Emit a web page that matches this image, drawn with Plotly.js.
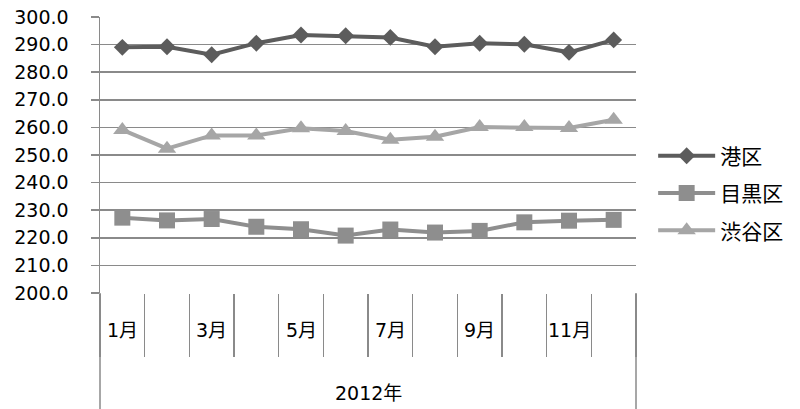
<!DOCTYPE html>
<html>
<head>
<meta charset="utf-8">
<script src="https://cdn.plot.ly/plotly-3.0.1.min.js"></script>
<style>html,body{margin:0;padding:0;background:#fff;}#chart{width:800px;height:409px;}</style>
</head>
<body>
<div id="chart"></div>
<script>
const months = ["1月","2月","3月","4月","5月","6月","7月","8月","9月","10月","11月","12月"];
const monthTickLabels = ["1月","","3月","","5月","","7月","","9月","","11月",""];
const yearLabel = "2012年";
const minato = [289.0, 289.2, 286.3, 290.5, 293.5, 293.2, 292.6, 289.2, 290.5, 290.1, 287.2, 291.7];
const meguro = [227.3, 226.3, 226.8, 224.0, 223.1, 220.8, 223.0, 221.9, 222.5, 225.6, 226.2, 226.5];
const shibuya = [259.1, 252.3, 257.1, 257.1, 259.7, 258.7, 255.5, 256.6, 260.1, 260.1, 259.8, 262.8];
const seriesNames = ["港区","目黒区","渋谷区"];

const FONT = '"DejaVu Sans", "Noto Sans CJK JP", sans-serif';
const GRID = '#8a8a8a';

const traces = [
  {x: months, y: minato, name: seriesNames[0], legendgroup: 'a', type: 'scatter', mode: 'lines+markers',
   line: {color: '#5c5c5c', width: 4}, marker: {symbol: 'diamond', size: 13, color: '#5c5c5c'}},
  {x: months, y: meguro, name: seriesNames[1], legendgroup: 'b', type: 'scatter', mode: 'lines+markers',
   line: {color: '#8e8e8e', width: 4}, marker: {symbol: 'square', size: 16, color: '#8e8e8e'}},
  {x: months, y: shibuya, name: seriesNames[2], legendgroup: 'c', type: 'scatter', mode: 'lines+markers',
   line: {color: '#a6a6a6', width: 4}, marker: {symbol: 'triangle-up', size: 16, color: '#a6a6a6'}}
];

const annotations = [];
monthTickLabels.forEach((t, i) => {
  if (t) annotations.push({x: months[i], xref: 'x', y: -0.134, yref: 'paper', text: t, showarrow: false,
    xanchor: 'center', yanchor: 'middle', font: {family: FONT, size: 19, color: '#000'}});
});
annotations.push({x: 0.5, xref: 'paper', y: -0.362, yref: 'paper', text: yearLabel, showarrow: false,
  xanchor: 'center', yanchor: 'middle', font: {family: FONT, size: 19, color: '#000'}});

const layout = {
  width: 800, height: 409,
  margin: {l: 100, r: 164, t: 17, b: 116, pad: 0, autoexpand: false},
  paper_bgcolor: '#fff', plot_bgcolor: '#fff',
  font: {family: FONT, size: 19, color: '#000'},
  showlegend: true,
  legend: {x: 1.032, xanchor: 'left', y: 0.362, yanchor: 'middle', font: {family: FONT, size: 21, color: '#000'},
           traceorder: 'grouped', tracegroupgap: 7, itemwidth: 57, bgcolor: 'rgba(0,0,0,0)'},
  xaxis: {type: 'category', range: [-0.5, 11.5], tickson: 'boundaries', ticks: 'outside', ticklen: 63,
          tickwidth: 1.5, tickcolor: GRID, showticklabels: false, showgrid: false, showline: false, zeroline: false,
          fixedrange: true},
  yaxis: {range: [200, 300], dtick: 10, tick0: 200, tickformat: '.1f', showgrid: true, gridcolor: GRID, gridwidth: 1.5,
          showline: true, linecolor: GRID, linewidth: 1.5, ticks: 'outside', ticklen: 8, tickwidth: 1.5, tickcolor: GRID,
          zeroline: false, ticklabelstandoff: 18, tickfont: {family: FONT, size: 19, color: '#000'}, fixedrange: true},
  shapes: [
    {type: 'line', xref: 'paper', yref: 'paper', x0: 0, x1: 0, y0: 0, y1: -0.42, line: {color: GRID, width: 1.5}},
    {type: 'line', xref: 'paper', yref: 'paper', x0: 1, x1: 1, y0: 0, y1: -0.42, line: {color: GRID, width: 1.5}}
  ],
  annotations: annotations
};

Plotly.newPlot('chart', traces, layout, {displayModeBar: false, staticPlot: true});
</script>
</body>
</html>
